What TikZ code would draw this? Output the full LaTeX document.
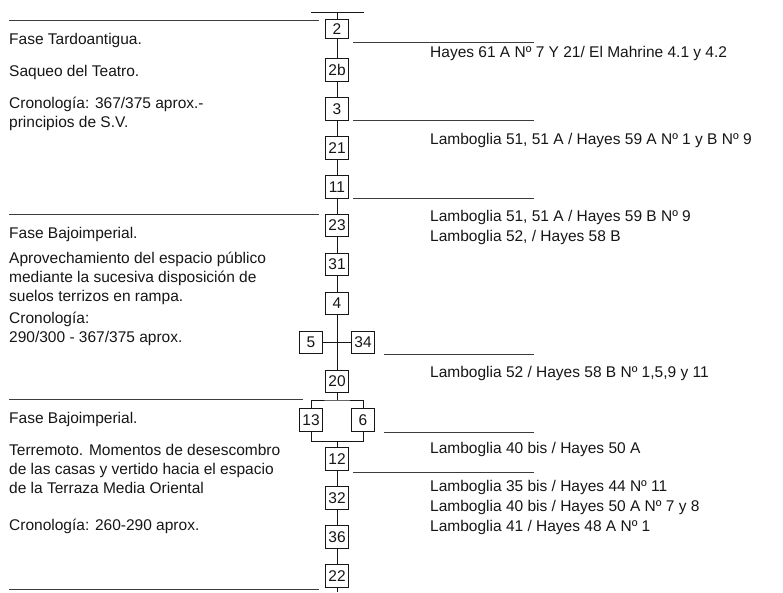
\documentclass[tikz,border=0pt]{standalone}
\usepackage{fontspec}
\setmainfont{Liberation Sans}
\usetikzlibrary{positioning,calc}
\definecolor{ink}{HTML}{161616}
\definecolor{rule}{HTML}{3C3C3C}
% lines of a text block, baseline on the first one
\newcommand{\rows}[1]{\vtop{\let\\\cr\halign{##\hfil\cr#1\crcr}}}

\begin{document}
\begin{tikzpicture}[x=1pt,y=-1pt,
  every node/.style={font=\fontsize{15.5}{19.2}\selectfont,text=ink},
  ue/.style={draw=ink,line width=0.9pt,minimum width=22.5pt,minimum height=22.5pt,inner sep=0pt},
  link/.style={draw=ink,line width=0.9pt},
  phase/.style={draw=rule,line width=1pt},
  lbl/.style={anchor=base west,inner sep=0pt},
  cer/.style={lbl,font=\fontsize{15.5}{20}\selectfont}]
\useasboundingbox (0,0) rectangle (783,592);

% ---------- stratigraphic column ----------
\node[ue,minimum height=19.3pt] (ue2) at (337,28.7) {2};
\foreach \row/\lab in {0/2b,1/3,2/21,3/11,4/23,5/31,6/4,8/20,10/12,11/32,12/36,13/22}
  \node[ue] (ue\lab) at (337,70+38.9*\row) {\lab};
\node[ue] (ue5)  at (311,342.3) {5};
\node[ue] (ue34) at (363,342.3) {34};
\node[ue] (ue13) at (311,420.1) {13};
\node[ue] (ue6)  at (363,420.1) {6};

\coordinate (barL) at (311,12);
\coordinate (barR) at (364,12);
\coordinate (head) at (337,12);
\coordinate (split) at (337,400);
\coordinate (join) at (337,441);
\coordinate (tail) at (337,592);

\draw[link] (barL) -- (barR);
\draw[link] (head) -- (ue2) -- (ue2b) -- (ue3) -- (ue21) -- (ue11) -- (ue23)
  -- (ue31) -- (ue4) -- (ue20) -- (split);
\draw[link] (ue5) -- (ue34);
\draw[link] (ue13) |- (split) -| (ue6);
\draw[link] (ue13) |- (join) -| (ue6);
\draw[link] (join) -- (ue12) -- (ue32) -- (ue36) -- (ue22) -- (tail);

% ---------- phase limits (left) and finds (right) ----------
\draw[phase] (9,20) -- (319,20);
\draw[phase] (9,214) -- (319,214);
\draw[phase] (9,399) -- (303,399);
\draw[phase] (9,589) -- (319,589);

\draw[phase] (353,42) -- (534,42);
\draw[phase] (353,120) -- (534,120);
\draw[phase] (353,198) -- (534,198);
\draw[phase] (384,354) -- (534,354);
\draw[phase] (384,432) -- (534,432);
\draw[phase] (353,472) -- (534,472);

% ---------- phases ----------
\node[lbl] (fase1)   at (9,44)  {Fase Tardoantigua.};
\node[lbl] (saqueo)  at (9,76)  {Saqueo del Teatro.};
\node[lbl] (crono1)  at (9,108) {\rows{Cronología: 367/375 aprox.-\\principios de S.V.}};

\node[lbl] (fase2)   at (9,238) {Fase Bajoimperial.};
\node[lbl] (rampa)   at (9,263) {\rows{Aprovechamiento del espacio público\\mediante la sucesiva disposición de\\suelos terrizos en rampa.}};
\node[lbl] (crono2)  at (9,323) {\rows{Cronología:\\290/300 - 367/375 aprox.}};

\node[lbl] (fase3)   at (9,423) {Fase Bajoimperial.};
\node[lbl] (sismo)   at (9,455) {\rows{Terremoto. Momentos de desescombro\\de las casas y vertido hacia el espacio\\de la Terraza Media Oriental}};
\node[lbl] (crono3)  at (9,530) {Cronología: 260-290 aprox.};

% ---------- pottery ----------
\node[cer] (cer2)  at (430,57)  {Hayes 61 A Nº 7 Y 21/ El Mahrine 4.1 y 4.2};
\node[cer] (cer3)  at (430,144) {Lamboglia 51, 51 A / Hayes 59 A Nº 1 y B Nº 9};
\node[cer] (cer23) at (430,221) {\rows{Lamboglia 51, 51 A / Hayes 59 B Nº 9\\Lamboglia 52, / Hayes 58 B}};
\node[cer] (cer20) at (430,377) {Lamboglia 52 / Hayes 58 B Nº 1,5,9 y 11};
\node[cer] (cer12) at (430,453) {Lamboglia 40 bis / Hayes 50 A};
\node[cer] (cer32) at (430,491) {\rows{Lamboglia 35 bis / Hayes 44 Nº 11\\Lamboglia 40 bis / Hayes 50 A Nº 7 y 8\\Lamboglia 41 / Hayes 48 A Nº 1}};
\end{tikzpicture}
\end{document}
